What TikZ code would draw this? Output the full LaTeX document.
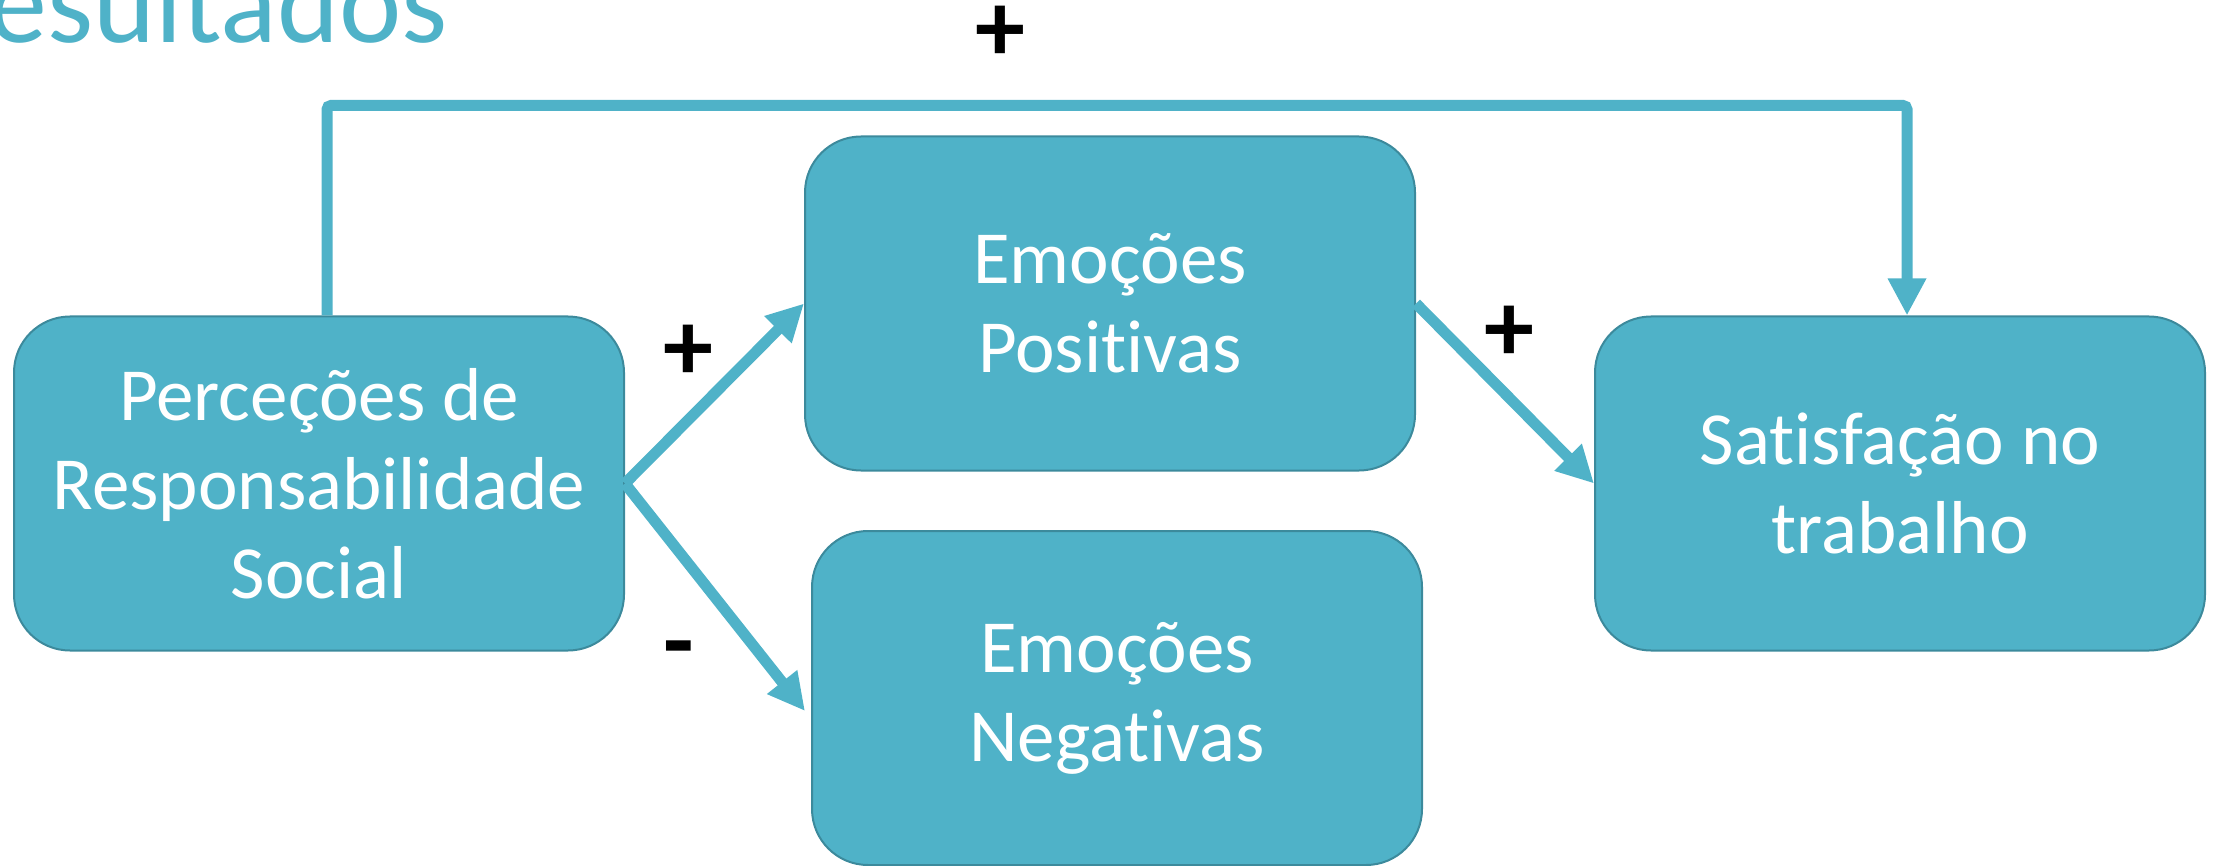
\documentclass[tikz,border=0pt]{standalone}
\usepackage{fontspec}
\setmainfont{Carlito}[Ligatures={NoCommon}]
\usetikzlibrary{arrows.meta,calc}
\definecolor{boxfill}{HTML}{4FB2C8}
\definecolor{boxline}{HTML}{3C8A9C}
\begin{document}
\begin{tikzpicture}[x=1pt,y=-1pt,
  box/.style={draw=boxline,line width=2pt,fill=boxfill,rounded corners=56pt,
    minimum width=610pt,minimum height=334pt,inner sep=0pt,text=white,align=center,
    font=\fontsize{75}{89}\selectfont},
  conn/.style={draw=boxfill,line width=11pt,-{Triangle[width=36pt,length=37pt]}},
  sign/.style={font=\bfseries\fontsize{100}{100}\selectfont,text=black,inner sep=0pt}]
\clip (0,0) rectangle (2215,866);
\node[anchor=base east,text=boxfill,font=\fontsize{118}{118}\selectfont,inner sep=0pt] (title) at (448,43) {Resultados};
\node[box] (b1) at (319,483.5) {Perceções de\\Responsabilidade\\Social};
\node[box] (b2) at (1110,303.5) {Emoções\\Positivas};
\node[box] (b3) at (1117,698) {Emoções\\Negativas};
\node[box] (b4) at (1900,483.5) {Satisfação no\\trabalho};
\draw[conn] (b1.east) -- (b2.west);
\draw[conn] (b1.east) -- ($(b3.west)+(-6,13)$);
\draw[conn] (b2.east) -- (b4.west);
\draw[conn,rounded corners=4pt] ($(b1.north)+(8,0)$) -- ++(0,-210) -| ($(b4.north)+(7,0)$);
\node[sign] (p1) at (688,353) {+};
\node[sign] (p2) at (1509,334) {+};
\node[sign] (p3) at (1000,34) {+};
\node[sign] (m1) at (679,658) {-};
\end{tikzpicture}
\end{document}
